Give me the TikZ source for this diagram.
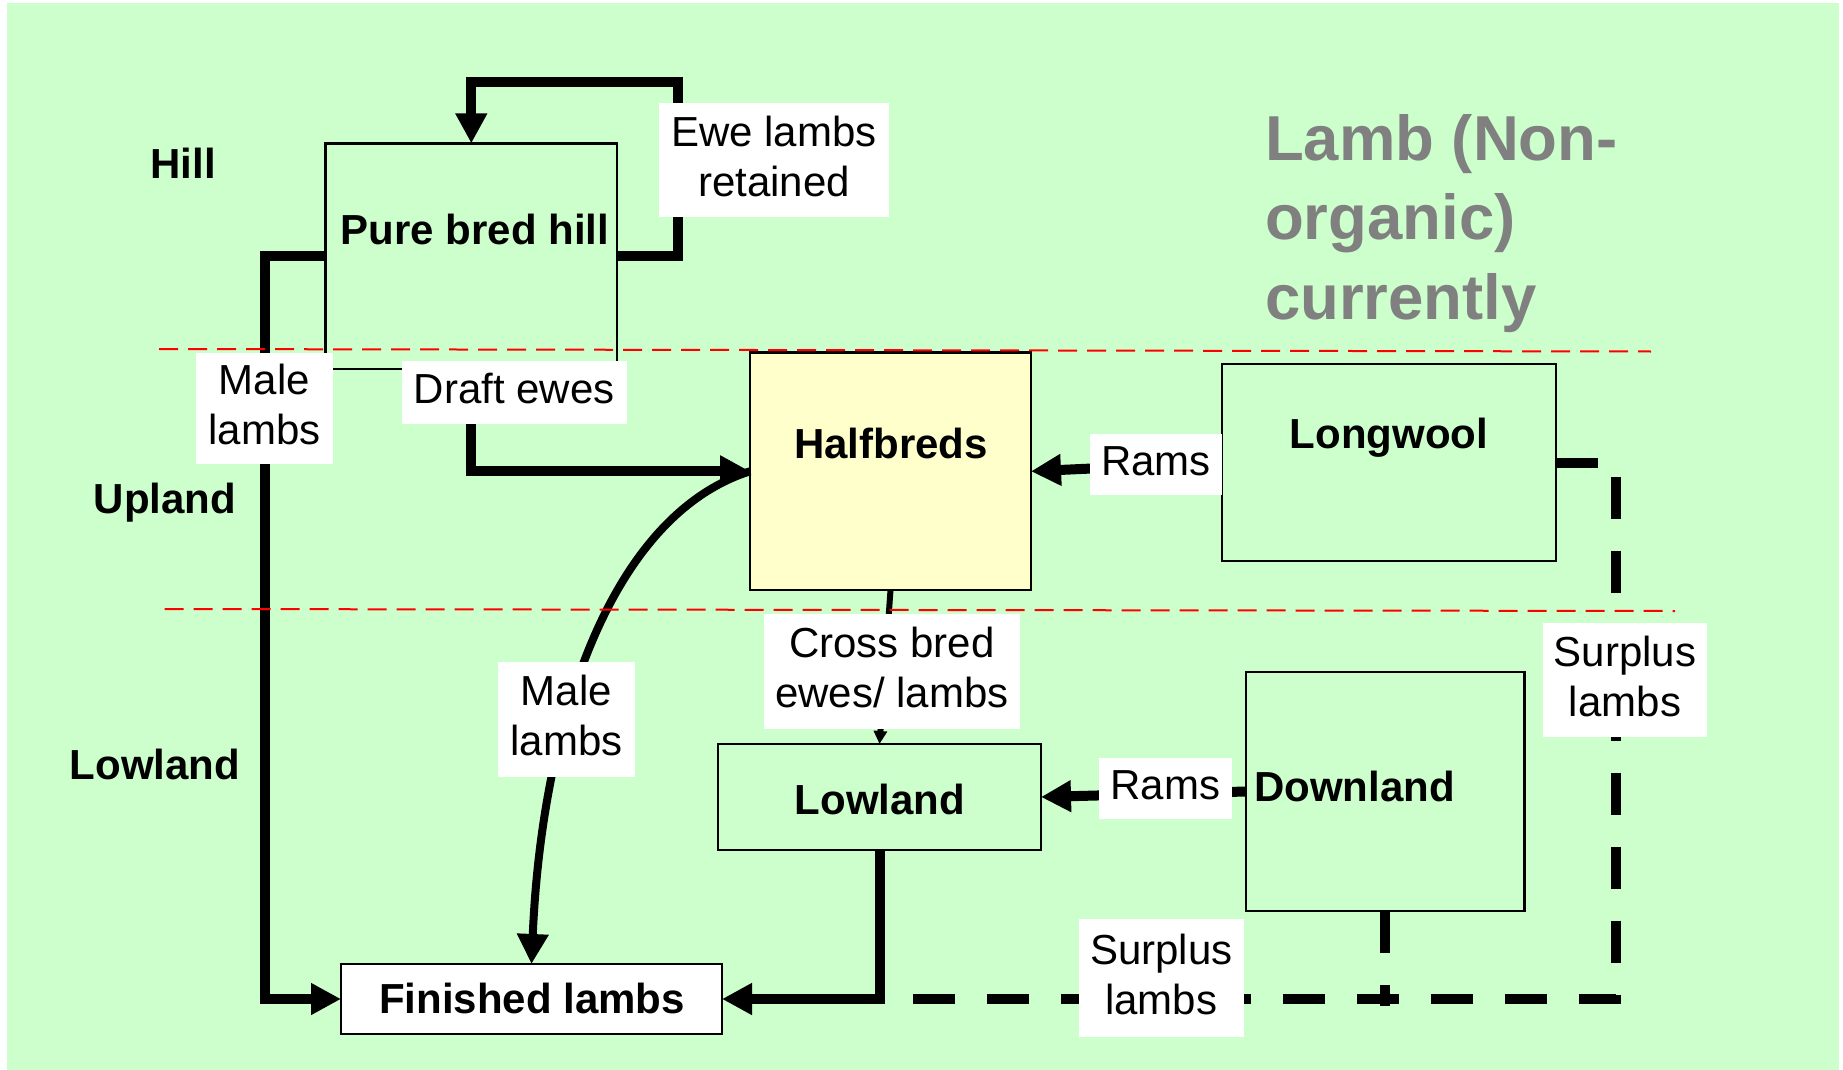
\documentclass[tikz,border=0pt]{standalone}
\usepackage{fontspec}
\setmainfont{Liberation Sans}
\usetikzlibrary{arrows.meta,calc}
\definecolor{bggreen}{HTML}{CCFFCC}
\definecolor{hbyellow}{HTML}{FFFFCC}
\definecolor{titlegray}{HTML}{808080}
\begin{document}
\begin{tikzpicture}[x=0.5pt,y=-0.5pt,
  every node/.style={inner sep=0pt, outer sep=0pt},
  box/.style={draw=black, line width=1.2pt},
  boxtext/.style={font=\fontsize{21}{25}\selectfont\bfseries},
  lab/.style={fill=white},
  labtext/.style={align=center, yshift=1.8pt, font=\fontsize{21}{25}\selectfont},
  region/.style={font=\fontsize{21}{25}\selectfont\bfseries},
  titletext/.style={anchor=base west, text=titlegray, font=\fontsize{31.75}{39.5}\selectfont\bfseries},
  flow/.style={line width=5pt, -{Triangle[length=15pt,width=15pt]}},
  curveflow/.style={line width=4pt, -{Triangle[length=15pt,width=15pt]}},
  smallflow/.style={line width=3pt, -{Triangle[length=6.5pt,width=6.5pt]}},
  surplus/.style={line width=5pt, dash pattern=on 21pt off 16pt},
  redline/.style={draw=red, line width=1pt, dash pattern=on 9.5pt off 5pt}
]
% canvas
\useasboundingbox (0,0) rectangle (1843,1070);
\fill[white] (0,0) rectangle (1843,1070);
\fill[bggreen] (7,3) rectangle (1839,1070);

% boxes
\node[box, minimum width=145.7pt, minimum height=112.8pt] (phb) at (471.3,256.2) {};
\node[box, fill=hbyellow, minimum width=140.5pt, minimum height=118.7pt] (hb) at (890.5,471.3) {};
\node[box, minimum width=167pt, minimum height=98.5pt] (lw) at (1389,462.5) {};
\node[box, minimum width=161.5pt, minimum height=53pt] (lowl) at (879.5,797) {};
\node[box, minimum width=139.25pt, minimum height=119.5pt] (dl) at (1385.25,791.5) {};
\node[box, fill=white, minimum width=190.5pt, minimum height=35pt] (fin) at (531.5,999) {};

% box texts
\node[boxtext] (tphb) at (475,229) {Pure bred hill};
\node[boxtext] (thb) at (891,443) {Halfbreds};
\node[boxtext] (tlw) at (1389,438) {Longwool};
\node[boxtext] (tlowl) at (880,799) {Lowland};
\node[boxtext] (tdl) at (1354.6,786) {Downland};
\node[boxtext] (tfin) at (532,998) {Finished lambs};

% helper coordinates
\coordinate (loopTR) at (678,82);
\coordinate (mlbot) at (264.5,999);
\coordinate (brc) at (1616,999);
\coordinate (jn) at (lowl.south |- fin.east);
\coordinate (dlb) at (1385.25,1006);

% connectors
\draw[flow] (phb.east) -| (loopTR) -| (phb.north);
\draw[flow] (phb.west) -| (mlbot) -- (fin.west);
\draw[flow] (phb.south) |- (hb.west);
\draw[curveflow] (hb.west) .. controls (612,515) and (542,720) .. (fin.north);
\draw[flow] (lw.west) -- (hb.east);
\draw[flow] (dl.west) -- (lowl.east);
\draw[smallflow] (hb.south) -- (lowl.north);
\draw[surplus] (lw.east) -| (brc) -- (jn);
\draw[surplus] (dl.south) -- (dlb);
\draw[flow] (lowl.south) |- (fin.east);

% zone separators
\draw[redline] (159,349) -- (1651,351.5);
\draw[redline] (164.5,609) -- (1675,611);

% connector labels (white panels, then their texts)
\node[lab, minimum width=115pt, minimum height=57pt] (lewe) at (774,160) {};
\node[lab, minimum width=68.5pt, minimum height=55.5pt] (lml1) at (264.5,408.5) {};
\node[lab, minimum width=112.25pt, minimum height=31.5pt] (ldraft) at (514.25,392.5) {};
\node[lab, minimum width=66pt, minimum height=30.5pt] (lrams1) at (1156,464.5) {};
\node[lab, minimum width=82pt, minimum height=57pt] (lsur1) at (1625,680) {};
\node[lab, minimum width=128pt, minimum height=57.75pt] (lcross) at (892,671.25) {};
\node[lab, minimum width=68.5pt, minimum height=57.5pt] (lml2) at (566.5,719.5) {};
\node[lab, minimum width=66.5pt, minimum height=30.5pt] (lrams2) at (1165.5,788.5) {};
\node[lab, minimum width=82.25pt, minimum height=59pt] (lsur2) at (1161.25,978) {};

\node[labtext] (lewe-t) at (lewe) {Ewe lambs\\retained};
\node[labtext] (lml1-t) at (lml1) {Male\\lambs};
\node[labtext] (ldraft-t) at (ldraft) {Draft ewes};
\node[labtext] (lrams1-t) at (lrams1) {Rams};
\node[labtext] (lsur1-t) at (lsur1) {Surplus\\lambs};
\node[labtext] (lcross-t) at (lcross) {Cross bred\\ewes/ lambs};
\node[labtext] (lml2-t) at (lml2) {Male\\lambs};
\node[labtext] (lrams2-t) at (lrams2) {Rams};
\node[labtext] (lsur2-t) at (lsur2) {Surplus\\lambs};

% region labels
\node[region] (rhill) at (183,163) {Hill};
\node[region] (rup) at (165,503) {Upland};
\node[region] (rlow) at (155,764) {Lowland};

% title
\node[titletext] (t1) at (1265,161) {Lamb (Non-};
\node[titletext] (t2) at (1265,240) {organic)};
\node[titletext] (t3) at (1265,319) {currently};
\end{tikzpicture}
\end{document}
